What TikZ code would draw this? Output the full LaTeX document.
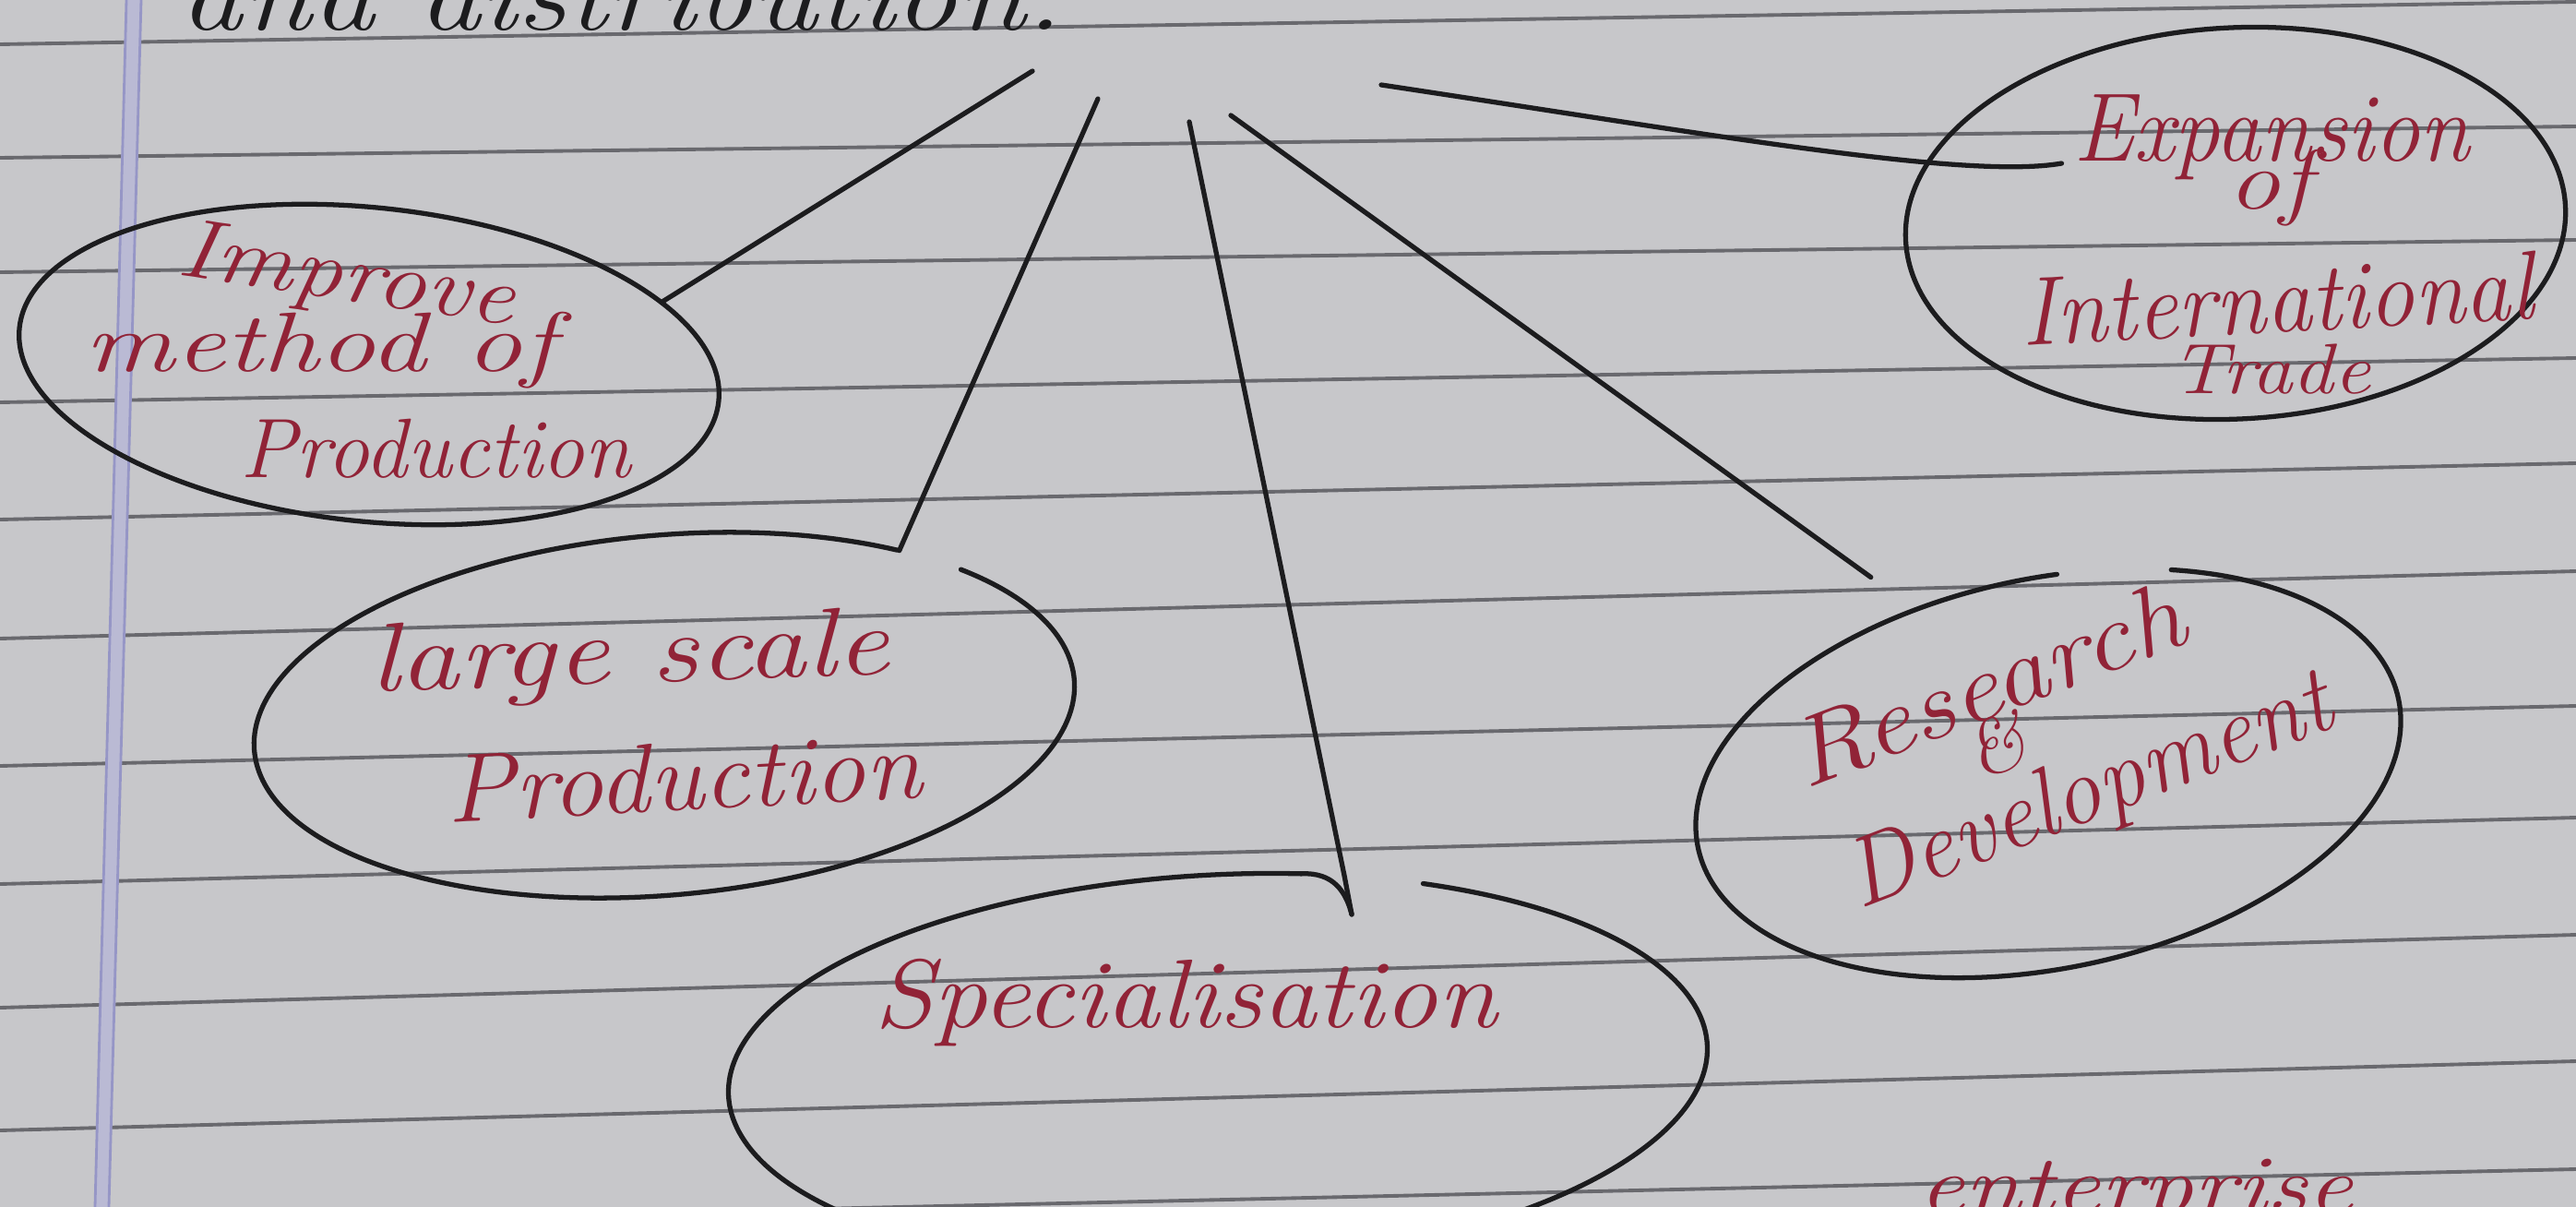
\documentclass[tikz,border=0pt]{standalone}
\usepackage{graphicx}
\usetikzlibrary{shapes.geometric,calc}
\definecolor{paper}{RGB}{199,199,202}
\definecolor{rulec}{RGB}{105,105,110}
\definecolor{inkc}{RGB}{28,28,30}
\definecolor{redink}{RGB}{145,35,55}
\definecolor{marginf}{RGB}{186,186,212}
\definecolor{marginl}{RGB}{150,150,198}
\tikzset{
  rule/.style={draw=rulec, line width=1.1pt},
  inkline/.style={draw=inkc, line width=1.5pt, line cap=round, line join=round},
  bubble/.style={ellipse, inner sep=0pt, outer sep=0pt},
  txt/.style={text=redink, inner sep=0pt, anchor=base, font=\itshape},
}
\newcommand{\hw}[2]{\resizebox{#1}{\height}{#2}}
\begin{document}
\begin{tikzpicture}
\useasboundingbox (0,0) rectangle (27.92,-13.08);
\clip (0,0) rectangle (27.92,-13.08);
\fill[paper] (0,0) rectangle (27.92,-13.08);
% ruled lines
\foreach \a/\b in {0.48/0.02, 1.71/1.37, 2.95/2.60, 4.36/3.88, 5.63/5.02, 6.92/6.19, 8.30/7.65, 9.58/8.86, 10.92/10.13, 12.25/11.50, 13.30/12.67}
  \draw[rule] (0,-\a) -- (27.92,-\b);
% margin
\fill[marginf] (1.37,0) -- (1.53,0) -- (1.18,-13.08) -- (1.03,-13.08) -- cycle;
\draw[marginl, line width=0.8pt] (1.37,0) -- (1.03,-13.08);
\draw[marginl, line width=0.8pt] (1.53,0) -- (1.18,-13.08);

% bubbles
\node[bubble, draw=inkc, line width=1.5pt, minimum width=7.62cm, minimum height=3.40cm, rotate=-6] (imp) at (4.00,-3.95) {};
\node[bubble, minimum width=8.92cm, minimum height=3.90cm, rotate=5] (lsp) at (7.20,-7.75) {};
\node[bubble, minimum width=10.62cm, minimum height=4.24cm, rotate=3] (spc) at (13.20,-11.60) {};
\node[bubble, minimum width=7.76cm, minimum height=4.22cm, rotate=12] (rnd) at (22.20,-8.38) {};
\node[bubble, draw=inkc, line width=1.5pt, minimum width=7.16cm, minimum height=4.24cm, rotate=3] (exp) at (24.23,-2.42) {};

% open outlines
\begin{scope}[shift={(lsp.center)}, rotate=5]
  \draw[inkline] (53.2:4.46 and 1.95) arc[start angle=53.2, end angle=401.5, x radius=4.46, y radius=1.95];
\end{scope}
\path (spc.54) ++(0.08,-0.42) coordinate (spcTip);
\begin{scope}[shift={(spc.center)}, rotate=3]
  \draw[inkline] (64:5.31 and 2.12) arc[start angle=64, end angle=-281, x radius=5.31, y radius=2.12]
     .. controls +(0.35,0.0) and +(-0.05,0.25) .. (spcTip);
\end{scope}
\begin{scope}[shift={(rnd.center)}, rotate=12]
  \draw[inkline] (82:3.88 and 2.11) arc[start angle=82, end angle=423, x radius=3.88, y radius=2.11];
\end{scope}

% texts
\node[txt, text=inkc] (topt) at (6.74,-0.33) {\fontsize{32}{38}\selectfont\hw{9.56cm}{and distribution.}};

\node[txt, rotate=-8.5] (impA) at (3.72,-3.25) {\fontsize{26}{30}\selectfont\hw{3.67cm}{Improve}};
\node[txt] (impB) at (3.47,-4.03) {\fontsize{26}{30}\selectfont\hw{5.10cm}{method of}};
\node[txt] (impC) at (4.72,-5.17) {\fontsize{26}{30}\selectfont\hw{4.24cm}{Production}};

\node[txt, rotate=2] (lspA) at (6.83,-7.40) {\fontsize{30}{36}\selectfont\hw{5.64cm}{large scale}};
\node[txt, rotate=3] (lspB) at (7.43,-8.78) {\fontsize{30}{36}\selectfont\hw{5.15cm}{Production}};

\node[txt] (spcA) at (12.85,-11.13) {\fontsize{30}{36}\selectfont\hw{6.75cm}{Specialisation}};

\node[txt, rotate=21] (rndA) at (21.66,-7.75) {\fontsize{30}{36}\selectfont\hw{4.48cm}{Research}};
\node[txt, rotate=21] (rndB) at (21.74,-8.35) {\fontsize{24}{28}\selectfont\&};
\node[txt, rotate=21] (rndC) at (22.75,-8.86) {\fontsize{30}{36}\selectfont\hw{5.55cm}{Development}};

\node[txt] (expA) at (24.62,-1.75) {\fontsize{30}{36}\selectfont\hw{4.30cm}{Expansion}};
\node[txt] (expB) at (24.60,-2.27) {\fontsize{26}{30}\selectfont\hw{0.91cm}{of}};
\node[txt, rotate=3] (expC) at (24.70,-3.60) {\fontsize{30}{36}\selectfont\hw{5.55cm}{International}};
\node[txt] (expD) at (24.61,-4.27) {\fontsize{22}{26}\selectfont\hw{2.17cm}{Trade}};

\node[txt] (ent) at (23.15,-13.15) {\fontsize{26}{30}\selectfont\hw{4.71cm}{enterprise}};

% connectors
\coordinate (c1) at (11.19,-0.77);
\coordinate (c2) at (11.90,-1.07);
\coordinate (c3) at (12.89,-1.32);
\coordinate (c4) at (13.34,-1.25);
\coordinate (c5) at (14.97,-0.92);
\draw[inkline] (c1) -- (imp.18);
\draw[inkline] (c2) -- (lsp.30);
\draw[inkline] (c3) -- (spc.54) -- (spcTip);
\draw[inkline, shorten >=0.6cm] (c4) -- (rnd.117);
\draw[inkline, shorten >=0.12cm] (c5) .. controls (18.5,-1.45) and (21.3,-1.95) .. (expA.base west);
\end{tikzpicture}
\end{document}
